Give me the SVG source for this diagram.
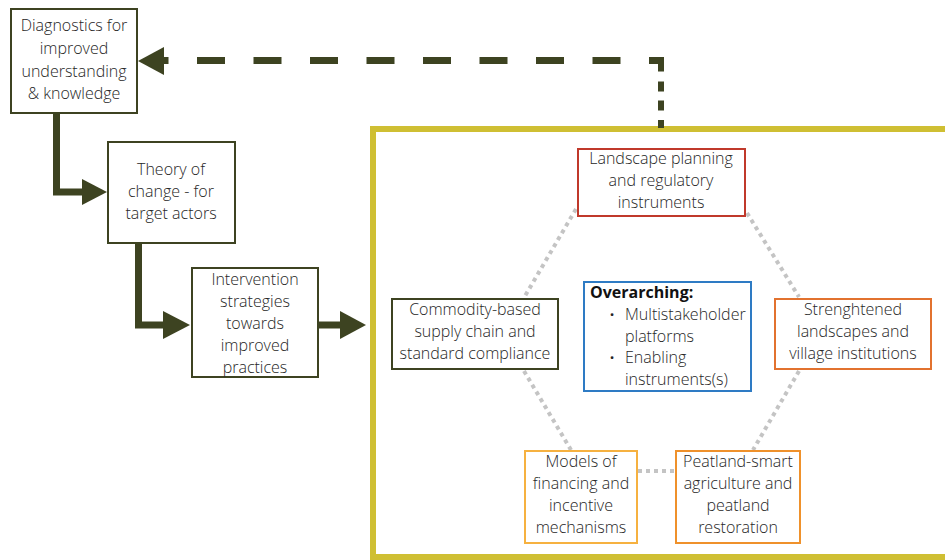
<svg xmlns="http://www.w3.org/2000/svg" width="945" height="560" viewBox="0 0 945 560">
<style>
.bg{fill:#ffffff}
.box{fill:#ffffff;stroke-width:2}
.olive{stroke:#3d4321}
.red{stroke:#c0392b}
.blue{stroke:#2e7bc4}
.orange{stroke:#e2722f}
.lorange{stroke:#f6b140}
.morange{stroke:#ef912b}
.t{font-family:"Open Sans","Noto Sans","DejaVu Sans",sans-serif;font-size:16px;font-weight:300;fill:#262626;text-anchor:middle}
.tl{text-anchor:start}
.b{font-weight:bold;fill:#111}
.bul{font-weight:bold}
.arrow{fill:none;stroke:#3d4321;stroke-width:7}
.head{fill:#3d4321}
.dot{fill:none;stroke:#c4c4c4;stroke-width:4;stroke-dasharray:4 4}
.frame{fill:none;stroke:#cfbf33;stroke-width:6}
</style>
<rect class="bg" x="0" y="0" width="945" height="560"/>
<rect class="frame" x="373" y="129" width="600" height="428"/>
<g id="connectors">
  <path class="arrow" d="M56.5 113 V192 H84"/>
  <polygon class="head" points="107,192 82,179 82,205"/>
  <path class="arrow" d="M138.5 243 V325 H166"/>
  <polygon class="head" points="190,325 163,311 163,339"/>
  <path class="arrow" d="M318 325 H342"/>
  <polygon class="head" points="366,325 340,311 340,339"/>
  <path class="arrow" d="M661 128 V57" style="stroke-width:6;stroke-dasharray:8 9.5 10 9 10 10 30"/>
  <path class="arrow" d="M664 60.5 H163" style="stroke-dasharray:15 28.5 28 28.5 28 28.5 28 28.5 28 28.5 28 28.5 28 28.5 28 28.5 28 28.5 28 28.5 28 28.5 28 28.5"/>
  <polygon class="head" points="138,61 164,47 164,75"/>
  <path class="dot" d="M576 209 L525 296"/>
  <path class="dot" d="M747 213 L799 297"/>
  <path class="dot" d="M524 371 L571 450"/>
  <path class="dot" d="M799 371 L753 450"/>
  <path class="dot" d="M638 471 L676 471"/>
</g>
<g id="diagnostics">
  <rect class="box olive" x="11" y="9" width="126" height="104"/>
  <text class="t" x="74" y="31">Diagnostics for</text>
  <text class="t" x="74" y="54">improved</text>
  <text class="t" x="74" y="77">understanding</text>
  <text class="t" x="74" y="99">&amp; knowledge</text>
</g>
<g id="theory">
  <rect class="box olive" x="108" y="142" width="127" height="101"/>
  <text class="t" x="171" y="175">Theory of</text>
  <text class="t" x="171" y="197">change - for</text>
  <text class="t" x="171" y="219">target actors</text>
</g>
<g id="intervention">
  <rect class="box olive" x="192" y="268" width="126" height="109"/>
  <text class="t" x="255" y="285">Intervention</text>
  <text class="t" x="255" y="307">strategies</text>
  <text class="t" x="255" y="329">towards</text>
  <text class="t" x="255" y="351">improved</text>
  <text class="t" x="255" y="373">practices</text>
</g>
<g id="landscape">
  <rect class="box red" x="578" y="149" width="167" height="67"/>
  <text class="t" x="661" y="164">Landscape planning</text>
  <text class="t" x="661" y="186">and regulatory</text>
  <text class="t" x="661" y="208">instruments</text>
</g>
<g id="commodity">
  <rect class="box olive" x="392" y="299" width="166" height="70"/>
  <text class="t" x="475" y="315">Commodity-based</text>
  <text class="t" x="475" y="337">supply chain and</text>
  <text class="t" x="475" y="359">standard compliance</text>
</g>
<g id="overarching">
  <rect class="box blue" x="584" y="282" width="167" height="109"/>
  <text class="t tl b" x="590" y="298">Overarching:</text>
  <text class="t bul" x="612" y="320">·</text>
  <text class="t tl" x="625" y="320">Multistakeholder</text>
  <text class="t tl" x="625" y="342">platforms</text>
  <text class="t bul" x="612" y="363">·</text>
  <text class="t tl" x="625" y="363">Enabling</text>
  <text class="t tl" x="625" y="385">instruments(s)</text>
</g>
<g id="strengthened">
  <rect class="box orange" x="775" y="299" width="156" height="70"/>
  <text class="t" x="853" y="315">Strenghtened</text>
  <text class="t" x="853" y="337">landscapes and</text>
  <text class="t" x="853" y="359">village institutions</text>
</g>
<g id="models">
  <rect class="box lorange" x="525" y="451" width="112" height="92"/>
  <text class="t" x="581" y="467">Models of</text>
  <text class="t" x="581" y="489">financing and</text>
  <text class="t" x="581" y="511">incentive</text>
  <text class="t" x="581" y="533">mechanisms</text>
</g>
<g id="peatland">
  <rect class="box morange" x="676" y="451" width="124" height="92"/>
  <text class="t" x="738" y="467">Peatland-smart</text>
  <text class="t" x="738" y="489">agriculture and</text>
  <text class="t" x="738" y="511">peatland</text>
  <text class="t" x="738" y="533">restoration</text>
</g>
</svg>
